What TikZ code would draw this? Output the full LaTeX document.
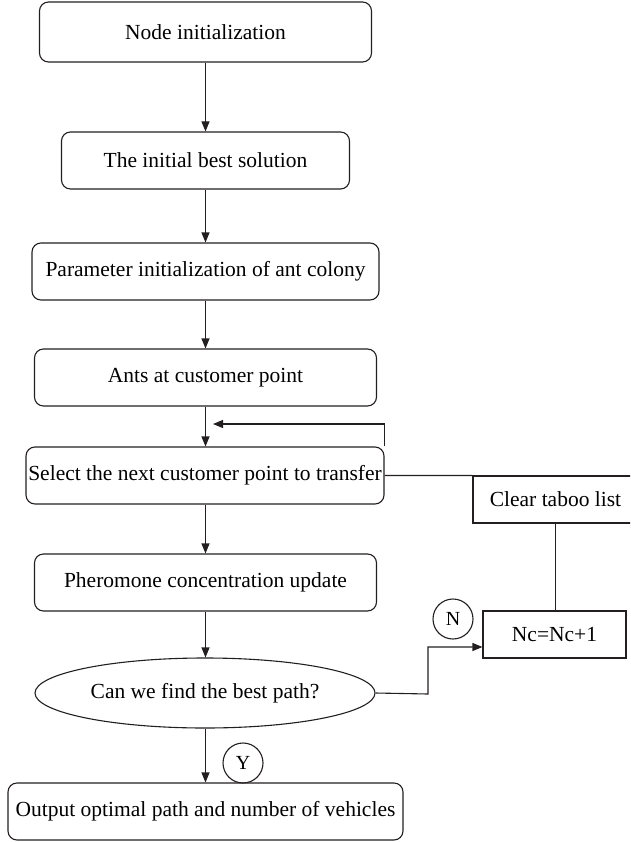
\documentclass[tikz,border=0pt]{standalone}
\usepackage{fontspec}
\setmainfont{Liberation Serif}
\usepackage{tikz}
\usetikzlibrary{shapes.geometric, arrows.meta, positioning}
\definecolor{flowline}{HTML}{231F20}

\begin{document}
\begin{tikzpicture}[x=1pt, y=-1pt,
  stepbox/.style={rectangle, rounded corners=9pt, draw=flowline, line width=1.1pt,
    minimum width=#1, minimum height=57pt, inner sep=0pt,
    font=\fontsize{21.5}{25}\selectfont},
  plainbox/.style={rectangle, draw=flowline, line width=1.1pt,
    minimum width=#1, minimum height=47pt, inner sep=0pt,
    font=\fontsize{21.5}{25}\selectfont},
  decision/.style={ellipse, draw=flowline, line width=1.1pt,
    minimum width=340pt, minimum height=70pt, inner sep=0pt,
    font=\fontsize{21.5}{25}\selectfont},
  tag/.style={circle, draw=flowline, line width=1.1pt, minimum size=40pt,
    inner sep=0pt, font=\fontsize{20}{24}\selectfont},
  arr/.style={draw=flowline, line width=1.1pt, -{Triangle[length=10pt, width=8pt]}},
  wire/.style={draw=flowline, line width=1.1pt}
]
  \clip (0,0) rectangle (630,842);

  % Main column
  \node[stepbox=332pt, minimum height=60pt] (init) at (205.5, 32) {Node initialization};
  \node[stepbox=288pt] (best) at (205.5, 160.5) {The initial best solution};
  \node[stepbox=347pt] (param) at (205.5, 271.5) {Parameter initialization of ant colony};
  \node[stepbox=342pt] (ants) at (205.5, 377.5) {Ants at customer point};
  \node[stepbox=358pt] (sel) at (205, 475.5) {Select the next customer point to transfer};
  \node[stepbox=342pt] (pher) at (205.5, 582.5) {Pheromone concentration update};
  \node[decision] (ask) at (205, 693) {Can we find the best path?};
  \node[stepbox=395pt] (out) at (205.5, 811.5) {Output optimal path and number of vehicles};

  % Right branch
  \node[plainbox=165pt] (clear) at (555.5, 499.5) {Clear taboo list};
  \node[plainbox=143pt] (nc) at (554.5, 634.5) {Nc=Nc+1};

  % Answers
  \node[tag] (no) at (453, 619) {N};
  \node[tag] (yes) at (243, 763) {Y};

  \coordinate (back) at (213, 424);
  \coordinate (bend) at (428, 694);

  % Connectors
  \draw[arr] (init.south -| best) -- (best.north);
  \draw[arr] (best.south) -- (param.north);
  \draw[arr] (param.south) -- (ants.north);
  \draw[arr] (ants.south) -- (ants.south |- sel.north);
  \draw[arr] (sel.south -| pher) -- (pher.north);
  \draw[arr] (pher.south) -- (pher.south |- ask.north);
  \draw[arr] (ask.south -| out) -- (out.north);
  \draw[arr] (sel.north east) |- (back);
  \draw[wire] (sel.east) -- (clear.north west);
  \draw[wire] (clear.south) -- (clear.south |- nc.north);
  \draw[arr] (ask.east) -- (bend) |- ([yshift=-12.5pt]nc.west);
\end{tikzpicture}
\end{document}
